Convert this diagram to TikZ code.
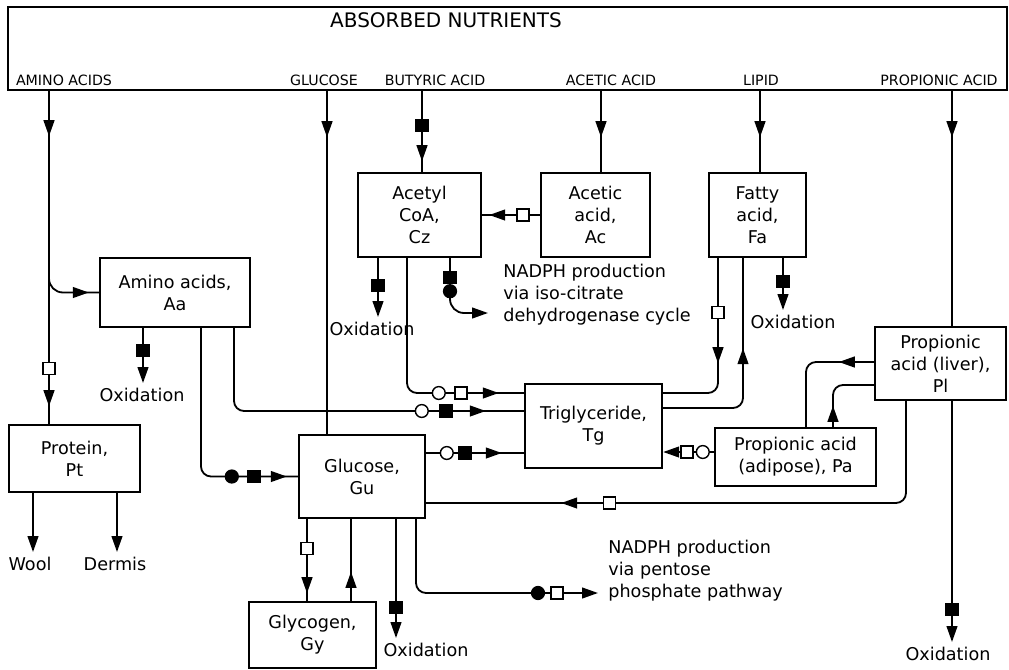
\documentclass[tikz,border=0pt]{standalone}
\usepackage{fontspec}
\setmainfont{DejaVu Sans}
\usetikzlibrary{arrows.meta,decorations.markings}
\newcommand{\bodysize}{\fontsize{8.8}{11}\selectfont}
\newcommand{\headsize}{\fontsize{7.1}{9}\selectfont}
\newcommand{\mkosq}{\filldraw[sharp corners,fill=white,line width=0.7pt] (-3pt,-3pt) rectangle (3pt,3pt);}
\newcommand{\mkfsq}{\filldraw[sharp corners,fill=black,line width=0.7pt] (-3pt,-3pt) rectangle (3pt,3pt);}
\newcommand{\mkocirc}{\filldraw[sharp corners,fill=white,line width=0.7pt] (0,0) circle (3.2pt);}
\newcommand{\mkfcirc}{\filldraw[sharp corners,fill=black,line width=0.7pt] (0,0) circle (3.2pt);}
\tikzset{
  pool/.style={draw, line width=1.2pt, align=center, font=\bodysize, inner sep=0pt},
  lbl/.style={font=\bodysize, inner sep=2.5pt, anchor=north},
  src/.style={font=\headsize, anchor=base, inner sep=0pt},
  flow/.style={line width=0.9pt, rounded corners=5pt},
  endarrow/.style={-{Triangle[length=8pt,width=5.4pt]}},
  mk/.style 2 args={postaction={decorate,decoration={markings,mark=at position #1 with {#2}}}},
  tipat/.style={mk={#1}{\arrow{Triangle[length=8pt,width=5.4pt]}}},
  osqat/.style={mk={#1}{\mkosq}},
  fsqat/.style={mk={#1}{\mkfsq}},
  ocat/.style={mk={#1}{\mkocirc}},
  fcat/.style={mk={#1}{\mkfcirc}}
}
\begin{document}
\begin{tikzpicture}[x=0.5pt,y=-0.5pt]
\useasboundingbox (0,0) rectangle (1009,670);
\node[pool, minimum width=499.5pt, minimum height=41.5pt] (N) at (507.5,48.5) {};
\node[font=\fontsize{10}{12}\selectfont, anchor=base, inner sep=0pt] (title) at (446,27) {ABSORBED NUTRIENTS};
\node[src] (lAA) at (64,85) {AMINO ACIDS};
\node[src] (lGU) at (324,85) {GLUCOSE};
\node[src] (lBU) at (435,85) {BUTYRIC ACID};
\node[src] (lAC) at (611,85) {ACETIC ACID};
\node[src] (lLI) at (761,85) {LIPID};
\node[src] (lPR) at (939,85) {PROPIONIC ACID};

\node[pool, minimum width=75pt, minimum height=34.5pt] (Aa) at (175,292.5) {Amino acids,\\Aa};
\node[pool, minimum width=61.5pt, minimum height=42pt] (Cz) at (419.5,215) {Acetyl\\CoA,\\Cz};
\node[pool, minimum width=54.5pt, minimum height=42pt] (Ac) at (595.5,215) {Acetic\\acid,\\Ac};
\node[pool, minimum width=48.5pt, minimum height=42pt] (Fa) at (757.5,215) {Fatty\\acid,\\Fa};
\node[pool, minimum width=65.5pt, minimum height=36.5pt] (Pl) at (940.5,363.5) {Propionic\\acid (liver),\\Pl};
\node[pool, minimum width=68.5pt, minimum height=42pt] (Tg) at (593.5,426) {Triglyceride,\\Tg};
\node[pool, minimum width=80.5pt, minimum height=29pt] (Pa) at (795.5,457) {Propionic acid\\(adipose), Pa};
\node[pool, minimum width=63pt, minimum height=41.5pt] (Gu) at (362,476.5) {Glucose,\\Gu};
\node[pool, minimum width=63.5pt, minimum height=33pt] (Gy) at (312.5,635) {Glycogen,\\Gy};
\node[pool, minimum width=65.5pt, minimum height=33.5pt] (Pt) at (74.5,458.5) {Protein,\\Pt};

\node[lbl] (Ox1) at (142,383) {Oxidation};
\node[lbl] (Ox2) at (372,317) {Oxidation};
\node[lbl] (Ox3) at (793,310) {Oxidation};
\node[lbl] (Ox4) at (948,642) {Oxidation};
\node[lbl] (Ox5) at (426,638) {Oxidation};
\node[lbl] (wool) at (30,552) {Wool};
\node[lbl] (dermis) at (115,552) {Dermis};
\node[font=\bodysize, align=left, anchor=north west, inner sep=0pt] (nadA) at (503,264) {NADPH production\\via iso-citrate\\dehydrogenase cycle};
\node[font=\bodysize, align=left, anchor=north west, inner sep=0pt] (nadB) at (608,540) {NADPH production\\via pentose\\phosphate pathway};
\coordinate (cA) at (488,313);
\coordinate (cB) at (598,593);
\coordinate (aaSplit) at (49,272);

\draw[flow, tipat=22.5pt, osqat=138.5pt, tipat=157.5pt] (N.south -| 49,0) -- (Pt.north -| 49,0);
\draw[flow, rounded corners=7pt, tipat=-5pt] (aaSplit) |- (Aa.west);
\draw[flow, fsqat=11pt, endarrow] (Aa.south -| 143,0) -- (Ox1.north -| 143,0);
\draw[flow, fcat=-33pt, fsqat=-22pt, tipat=-5.5pt] (Aa.south -| 201,0) |- (Gu.west);
\draw[flow, ocat=-51pt, fsqat=-39pt, tipat=-19pt] (Aa.south -| 234,0) |- (Tg.west |- 0,411);
\draw[flow, ocat=-42.5pt, osqat=-31.5pt, tipat=-12.5pt] (Cz.south -| 407,0) |- (Tg.west |- 0,393);
\draw[flow, ocat=-38.5pt, fsqat=-29.5pt, tipat=-11pt] (Gu.east |- 0,453) -- (Tg.west |- 0,453);
\draw[flow, tipat=23pt] (N.south -| 327,0) -- (Gu.north -| 327,0);
\draw[flow, fsqat=17pt, tipat=35pt] (N.south -| 422,0) -- (Cz.north -| 422,0);
\draw[flow, tipat=23pt] (N.south -| 601,0) -- (Ac.north -| 601,0);
\draw[flow, tipat=23pt] (N.south -| 760,0) -- (Fa.north -| 760,0);
\draw[flow, tipat=23pt] (N.south -| 952,0) -- (Pl.north -| 952,0);
\draw[flow, osqat=8.5pt, tipat=-3.5pt] (Ac.west) -- (Cz.east);
\draw[flow, fsqat=13.5pt, endarrow] (Cz.south -| 378,0) -- (Ox2.north -| 378,0);
\draw[flow, rounded corners=7pt, fsqat=9.5pt, fcat=16.5pt, endarrow] (Cz.south -| 450,0) |- (cA);
\draw[flow, osqat=27pt, tipat=52.5pt] (Fa.south -| 718,0) |- (Tg.east |- 0,393);
\draw[flow, tipat=-45pt] (Tg.east |- 0,408) -| (Fa.south -| 743,0);
\draw[flow, fsqat=11.5pt, endarrow] (Fa.south -| 783,0) -- (Ox3.north -| 783,0);
\draw[flow, tipat=17.5pt] (Pl.west |- 0,362) -| (Pa.north -| 806,0);
\draw[flow, tipat=10.5pt] (Pa.north -| 833,0) |- (Pl.west |- 0,385);
\draw[flow, ocat=5.5pt, osqat=13.5pt, endarrow] (Pa.west |- 0,452) -- (Tg.east |- 0,452);
\draw[flow, osqat=-91.5pt, tipat=-67.5pt] (Pl.south -| 906,0) |- (Gu.east |- 0,503);
\draw[flow, fsqat=104pt, endarrow] (Pl.south -| 952,0) -- (Ox4.north -| 952,0);
\draw[flow, osqat=14.5pt, tipat=37pt] (Gu.south -| 307,0) -- (Gy.north -| 307,0);
\draw[flow, tipat=14.5pt] (Gy.north -| 351,0) -- (Gu.south -| 351,0);
\draw[flow, fsqat=44pt, endarrow] (Gu.south -| 396,0) -- (Ox5.north -| 396,0);
\draw[flow, fcat=-30pt, osqat=-20.5pt, endarrow] (Gu.south -| 416,0) |- (cB);
\draw[flow, endarrow] (Pt.south -| 33,0) -- (wool.north -| 33,0);
\draw[flow, endarrow] (Pt.south -| 117,0) -- (dermis.north -| 117,0);
\end{tikzpicture}
\end{document}
